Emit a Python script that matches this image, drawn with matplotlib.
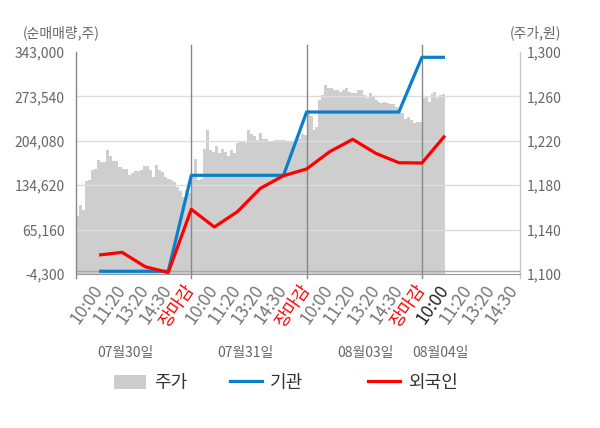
import numpy as np
import matplotlib
matplotlib.use('Agg')
import matplotlib.pyplot as plt
from matplotlib.patches import Patch
from matplotlib.lines import Line2D

plt.rcParams['font.family'] = ['Noto Sans CJK KR', 'DejaVu Sans']

# -----------------
#    data
# -----------------
dates = ['07월30일', '07월31일', '08월03일', '08월04일']
date_pos = [0.43, 1.47, 2.51, 3.16]
times = ['10:00', '11:20', '13:20', '14:30', '장마감']

# 주가 (원), 장중 흐름 (하루 단위)
price_d1 = [1152, 1162, 1158, 1184, 1185, 1194, 1195, 1203, 1201, 1201, 1212, 1206, 1202,
            1202, 1196, 1195, 1195, 1189, 1191, 1193, 1193, 1194, 1197, 1197, 1194, 1187,
            1198, 1194, 1192, 1187, 1186, 1185, 1183, 1178, 1175, 1169, 1176, 1173]
price_d2 = [1187, 1204, 1185, 1186, 1213, 1230, 1212, 1210, 1215, 1209, 1213, 1210, 1206,
            1212, 1209, 1218, 1219, 1219, 1218, 1230, 1226, 1224, 1221, 1227, 1222, 1222,
            1219, 1219, 1221, 1221, 1221, 1221, 1220, 1219, 1219, 1218, 1222, 1226, 1225]
price_d3 = [1248, 1242, 1230, 1232, 1257, 1261, 1270, 1268, 1268, 1266, 1266, 1264, 1266,
            1268, 1264, 1263, 1263, 1266, 1266, 1261, 1259, 1263, 1260, 1257, 1255, 1254,
            1255, 1254, 1253, 1253, 1250, 1248, 1245, 1240, 1241, 1239, 1236, 1237, 1237]
price_d4 = [1259, 1260, 1255, 1262, 1264, 1259, 1261, 1262]
day_span = [1.0, 1.0, 1.0, 0.2]

# 순매매량 (주), 각 시점 누적
inst = [0, 0, 0, 0, 150100,
        150100, 150100, 150100, 150100, 249100,
        249100, 249100, 249100, 249100, 334700,
        334700]
foreign = [25400, 29600, 7100, -2000, 96900,
           69200, 93200, 129800, 149500, 160000,
           187000, 206400, 184500, 169800, 169300,
           212100]

left_ticks = [-4300, 65160, 134620, 204080, 273540, 343000]
right_ticks = [1100, 1140, 1180, 1220, 1260, 1300]

# -----------------
#    layout
# -----------------
fig = plt.figure(figsize=(6, 4.28), dpi=100)
ax = fig.add_axes([76/600, 1-274/428, 444/600, 222/428])
ax2 = ax.twinx()
ax.set_zorder(ax2.get_zorder() + 1)
ax.patch.set_visible(False)
ax2.set_facecolor('#f4f4f4')

xmax = 3.851
ax.set_xlim(0, xmax)
ax.set_ylim(left_ticks[0], left_ticks[-1])
ax2.set_ylim(right_ticks[0], right_ticks[-1])

# 주가 영역
for d, p in enumerate([price_d1, price_d2, price_d3, price_d4]):
    xs = d + np.linspace(0, day_span[d], len(p) + 1)
    ys = np.append(p, p[-1])
    ax2.fill_between(xs, right_ticks[0], ys, step='post', color='#cecece', lw=0)

# grid
for t in left_ticks[1:-1]:
    ax.axhline(t, color='#dddddd', lw=1, zorder=1)
ax.axhline(0, color='#a8a8a8', lw=1, zorder=1)

# 구분선
ax.axvline(0, ymin=-0.018, ymax=1, color='#888888', lw=1, clip_on=False, zorder=1)
for d in [1, 2, 3]:
    ax.axvline(d, ymin=-0.018, ymax=1.032, color='#888888', lw=1, clip_on=False, zorder=1)
ax.axvline(xmax, ymin=-0.018, ymax=1, color='#c8c8c8', lw=1, clip_on=False, zorder=1)

# 기관 / 외국인
xp = [d + (j + 1) * 0.2 for d in range(4) for j in range(5)][:len(inst)]
ax.plot(xp, inst, color='#0a7fcc', lw=2.3, zorder=3, solid_capstyle='butt')
ax.plot(xp, foreign, color='#ff0000', lw=2.3, zorder=4, solid_capstyle='butt')

for s in ['top', 'left', 'right']:
    ax.spines[s].set_visible(False)
    ax2.spines[s].set_visible(False)
ax.spines['bottom'].set_color('#999999')
ax2.spines['bottom'].set_visible(False)

# y ticks
ax.set_yticks(left_ticks, [f'{t:,}' for t in left_ticks])
ax2.set_yticks(right_ticks, [f'{t:,}' for t in right_ticks])
ax.tick_params(axis='y', length=0, pad=8, labelsize=10, labelcolor='#666666')
ax2.tick_params(axis='y', length=0, pad=5, labelsize=10, labelcolor='#666666')

# x ticks
xt = [d + (j + 1) * 0.2 for d in range(4) for j in range(5)][:19]
xl = (times * 4)[:19]
ax.set_xticks(xt, xl, rotation=55, ha='right', va='center', rotation_mode='anchor')
ax.tick_params(axis='x', length=0, pad=9, labelsize=12.5)
for i, lab in enumerate(ax.get_xticklabels()):
    if xl[i] == '장마감':
        lab.set_color('#ff0000')
    elif i == 15:
        lab.set_color('#222222')
    else:
        lab.set_color('#777777')

for x, s in zip(date_pos, dates):
    ax.text(x, -0.356, s, transform=ax.get_xaxis_transform(), ha='center', va='center',
            fontsize=10, color='#666666')

fig.text(23/600, 1-33/428, '(순매매량,주)', ha='left', va='center', fontsize=10, color='#666666')
fig.text(561/600, 1-33/428, '(주가,원)', ha='right', va='center', fontsize=10, color='#666666')

# legend
leg_items = [(Patch(facecolor='#cccccc', edgecolor='none'), '주가', 114),
             (Line2D([], [], color='#0a7fcc', lw=2.3), '기관', 230),
             (Line2D([], [], color='#ff0000', lw=2.3), '외국인', 368)]
for h, lab, px in leg_items:
    fig.legend([h], [lab], loc='center left', bbox_to_anchor=(px/600, 1-383/428),
               frameon=False, fontsize=13, handlelength=1.75, handleheight=0.8,
               handletextpad=0.45, borderpad=0, borderaxespad=0, labelcolor='#333333')

fig.savefig('out.png', dpi=100)
